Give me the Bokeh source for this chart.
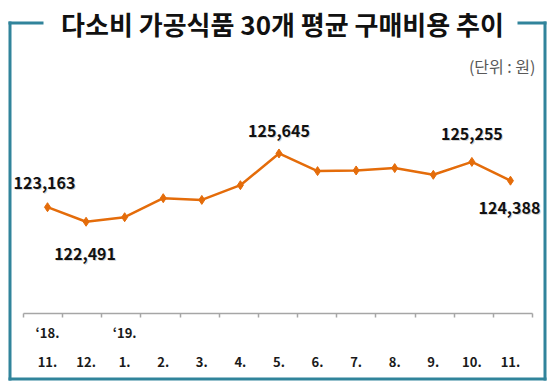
from bokeh.plotting import figure
from bokeh.models import (Range1d, LinearAxis, FixedTicker, BoxAnnotation, Label,
                          ColumnDataSource)
from bokeh.core.properties import value
from bokeh.embed import file_html
from bokeh.resources import INLINE

# ---- data ----
years = ["‘18.", "‘19."]
year_pos = [0, 2]
months = ["11.", "12.", "1.", "2.", "3.", "4.", "5.", "6.", "7.", "8.", "9.", "10.", "11."]
costs = [123163, 122491, 122700, 123580, 123500, 124180, 125645, 124830, 124860, 124970, 124660, 125255, 124388]
labeled = [0, 1, 6, 11, 12]
title_text = "다소비 가공식품 30개 평균 구매비용 추이"
unit_text = "(단위 : 원)"

# ---- styles / layout ----
FONT = "Noto Sans CJK KR"
ORANGE = "#E46C0A"
TEAL = "#31849B"
label_dx = [-3, -1, 0, 0, -1]
label_dy = [-24, 32, -22, -28, 27]

W, H = 560, 390
PX_X = 38.58        # pixels per category step
PX_Y = 1 / 46.2     # pixels per won
X_FIRST = 47        # pixel of the first category
Y_REF = 206.7       # pixel row of the first value
AXIS_ROW = 313      # pixel row of the axis line
AXIS_L, AXIS_R = 23, 532

n = len(months)
idx = list(range(n))
x_start = -X_FIRST / PX_X
x_end = x_start + W / PX_X
y_top = costs[0] + Y_REF / PX_Y
y_bot = y_top - H / PX_Y

p = figure(width=W, height=H, output_backend="svg", toolbar_location=None,
           x_range=Range1d(x_start, x_end), y_range=Range1d(y_bot, y_top),
           x_axis_location=None, y_axis_location=None,
           min_border=0, min_border_left=0, min_border_right=0,
           min_border_top=0, min_border_bottom=0)
p.outline_line_color = None
p.grid.grid_line_color = None
p.background_fill_color = "white"
p.border_fill_color = "white"

axis_y = y_top - AXIS_ROW / PX_Y
ax_l = x_start + AXIS_L / PX_X
ax_r = x_start + AXIS_R / PX_X
minor = [ax_l + k * (ax_r - ax_l) / n for k in range(n + 1)]

# year axis (with axis line and boundary ticks)
ax1 = LinearAxis(ticker=FixedTicker(ticks=year_pos, minor_ticks=minor),
                 fixed_location=axis_y, bounds=(ax_l, ax_r))
ax1.major_label_overrides = {pos: t for pos, t in zip(year_pos, years)}
ax1.axis_line_color = "#A6A6A6"
ax1.axis_line_width = 1.5
ax1.major_tick_line_color = None
ax1.major_tick_in = 0
ax1.major_tick_out = 0
ax1.minor_tick_line_color = "#A6A6A6"
ax1.minor_tick_line_width = 1.5
ax1.minor_tick_in = 0
ax1.minor_tick_out = 4
ax1.major_label_standoff = 5
ax1.major_label_text_font = FONT
ax1.major_label_text_font_style = "bold"
ax1.major_label_text_font_size = "13px"
ax1.major_label_text_color = "#1a1a1a"
p.add_layout(ax1, "below")

# month axis
ax2 = LinearAxis(ticker=FixedTicker(ticks=idx), fixed_location=axis_y)
ax2.major_label_overrides = {i: m for i, m in zip(idx, months)}
ax2.axis_line_color = None
ax2.major_tick_line_color = None
ax2.minor_tick_line_color = None
ax2.major_tick_in = 0
ax2.major_tick_out = 0
ax2.major_label_standoff = 43
ax2.major_label_text_font = FONT
ax2.major_label_text_font_style = "bold"
ax2.major_label_text_font_size = "13px"
ax2.major_label_text_color = "#1a1a1a"
p.add_layout(ax2, "below")

# line + markers
src = ColumnDataSource(dict(x=idx, y=costs))
p.line("x", "y", source=src, line_color=ORANGE, line_width=2.5)
p.scatter("x", "y", source=src, marker="diamond", size=9, fill_color=ORANGE, line_color=ORANGE)

# data labels
lsrc = ColumnDataSource(dict(
    x=[idx[i] for i in labeled],
    y=[costs[i] for i in labeled],
    t=[f"{costs[i]:,}" for i in labeled],
    dx=label_dx, dy=label_dy,
    sdx=[d + 1 for d in label_dx], sdy=[d + 1 for d in label_dy],
))
p.text("x", "y", text="t", source=lsrc, x_offset="sdx", y_offset="sdy",
       text_font=value(FONT), text_font_style="bold", text_font_size="16px",
       text_color="#BBBBBB", text_alpha=0.6, text_align="center", text_baseline="middle")
p.text("x", "y", text="t", source=lsrc, x_offset="dx", y_offset="dy",
       text_font=value(FONT), text_font_style="bold", text_font_size="16px",
       text_color="#111111", text_align="center", text_baseline="middle")

# frame (canvas units)
def box(l, r, t, b):
    p.add_layout(BoxAnnotation(left=l, right=r, top=t, bottom=b,
                               left_units="canvas", right_units="canvas",
                               top_units="canvas", bottom_units="canvas",
                               fill_color=TEAL, fill_alpha=1, line_color=None, level="overlay"))

box(8, 11, 21, 380)       # left
box(543, 546, 21, 380)    # right
box(8, 546, 377, 380)     # bottom
box(8, 43, 21, 24)        # top-left
box(517, 546, 21, 24)     # top-right

p.add_layout(Label(x=282, y=23, x_units="canvas", y_units="canvas", text=title_text,
                   text_font=FONT, text_font_style="bold", text_font_size="26px",
                   text_color="#111111", text_align="center", text_baseline="middle"))
p.add_layout(Label(x=535, y=65, x_units="canvas", y_units="canvas", text=unit_text,
                   text_font=FONT, text_font_size="16px",
                   text_color="#595959", text_align="right", text_baseline="middle"))

open("out.html", "w").write(file_html(p, INLINE))
